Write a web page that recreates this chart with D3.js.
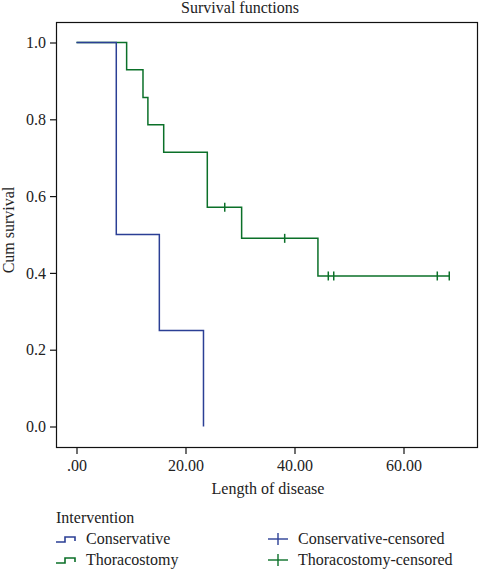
<!DOCTYPE html>
<html><head><meta charset="utf-8">
<script src="https://cdn.jsdelivr.net/npm/d3@7"></script>
<style>body{margin:0;background:#fff}svg{display:block}text{font-family:"Liberation Serif","DejaVu Serif",serif;fill:#222}</style>
</head><body><svg id="c" width="480" height="570"></svg>
<script>
const groups = ["Conservative","Thoracostomy"];
const colors = ["#2b3f95","#0b7029"];
// step functions: [time, survival after time]
const conservativeTimes = [0, 7.3, 15.2, 23.3];
const conservativeSurv  = [1.0, 0.5, 0.25, 0.0];
const thoracTimes = [0, 9.2, 12.2, 13.1, 16.0, 24.0, 30.3, 44.3];
const thoracSurv  = [1.0, 0.929, 0.857, 0.786, 0.714, 0.571, 0.490, 0.392];
const thoracEnd = 68.4;
const thoracCensored = [27.2, 38.2, 46.2, 47.2, 66.2, 68.4];
const xTicks = [0, 20, 40, 60];
const yTicks = [0, 0.2, 0.4, 0.6, 0.8, 1.0];

const FS = "16px";
const svg = d3.select("#c");
const frame = {l:56, t:22, r:478, b:448};
const x = d3.scaleLinear().domain([0,60]).range([76.5,403.5]);
const y = d3.scaleLinear().domain([0,1]).range([426.5,42.5]);

svg.append("rect").attr("x",frame.l+0.5).attr("y",frame.t+0.5)
  .attr("width",frame.r-frame.l-1).attr("height",frame.b-frame.t-1)
  .attr("fill","none").attr("stroke","#111").attr("stroke-width",1.2);

const yAxis = svg.append("g").attr("transform",`translate(${frame.l},0)`)
  .call(d3.axisLeft(y).tickValues(yTicks).tickFormat(d3.format(".1f")).tickSize(6).tickPadding(4));
const xAxis = svg.append("g").attr("transform",`translate(0,${frame.b})`)
  .call(d3.axisBottom(x).tickValues(xTicks).tickFormat(d => d===0 ? ".00" : d3.format(".2f")(d)).tickSize(6).tickPadding(6));
[yAxis,xAxis].forEach(a=>{
  a.select(".domain").remove();
  a.selectAll("line").attr("stroke","#111").attr("stroke-width",1.2);
  a.selectAll("text").style("font-size",FS).style("font-family",'"Liberation Serif",serif').attr("fill","#222");
});

svg.append("text").attr("x",240).attr("y",13).attr("text-anchor","middle").style("font-size",FS).text("Survival functions");
svg.append("text").attr("transform","translate(14,230) rotate(-90)").attr("text-anchor","middle").style("font-size",FS).text("Cum survival");
svg.append("text").attr("x",268).attr("y",494).attr("text-anchor","middle").style("font-size",FS).text("Length of disease");

function stepPath(times, surv, end){
  const p = d3.path();
  p.moveTo(x(times[0]), y(surv[0]));
  for(let i=1;i<times.length;i++){
    p.lineTo(x(times[i]), y(surv[i-1]));
    p.lineTo(x(times[i]), y(surv[i]));
  }
  if(end!==undefined) p.lineTo(x(end), y(surv[surv.length-1]));
  return p.toString();
}
svg.append("path").attr("d",stepPath(thoracTimes,thoracSurv,thoracEnd))
  .attr("fill","none").attr("stroke",colors[1]).attr("stroke-width",1.5);
svg.append("path").attr("d",stepPath(conservativeTimes,conservativeSurv))
  .attr("fill","none").attr("stroke",colors[0]).attr("stroke-width",1.5);

function survAt(t){
  let s = thoracSurv[0];
  thoracTimes.forEach((tt,i)=>{ if(tt<=t) s = thoracSurv[i]; });
  return s;
}
svg.selectAll(".cens").data(thoracCensored).enter().append("line")
  .attr("x1",d=>x(d)).attr("x2",d=>x(d))
  .attr("y1",d=>y(survAt(d))-4.5).attr("y2",d=>y(survAt(d))+4.5)
  .attr("stroke",colors[1]).attr("stroke-width",1.5);

// legend
const lg = svg.append("g");
lg.append("text").attr("x",56).attr("y",523).style("font-size",FS).text("Intervention");
const rows = [544,565];
groups.forEach((g,i)=>{
  const yy = rows[i]-5;
  lg.append("path").attr("d",`M56,${yy+3}H65V${yy-2}H75V${yy+2}`)
    .attr("fill","none").attr("stroke",colors[i]).attr("stroke-width",1.6);
  lg.append("text").attr("x",86).attr("y",rows[i]).style("font-size",FS).text(g);
  lg.append("line").attr("x1",268).attr("x2",288).attr("y1",yy).attr("y2",yy).attr("stroke",colors[i]).attr("stroke-width",1.4);
  lg.append("line").attr("x1",278).attr("x2",278).attr("y1",yy-6).attr("y2",yy+6).attr("stroke",colors[i]).attr("stroke-width",1.4);
  lg.append("text").attr("x",298).attr("y",rows[i]).style("font-size",FS).text(g+"-censored");
});
</script></body></html>
